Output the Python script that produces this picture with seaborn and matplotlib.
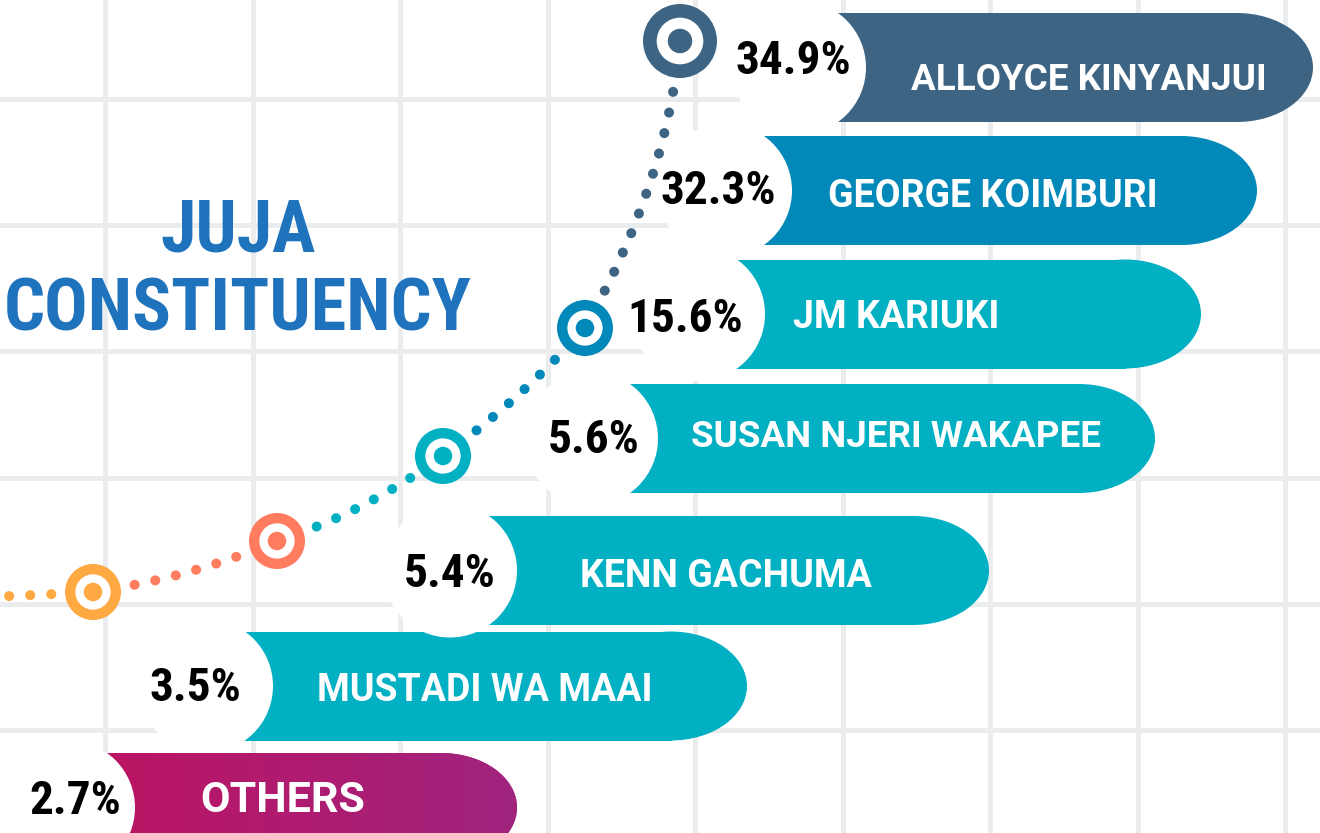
import os
import numpy as np
import matplotlib
matplotlib.use("Agg")
import matplotlib.pyplot as plt
from matplotlib.patches import Circle, Ellipse, PathPatch
from matplotlib.path import Path
from matplotlib.colors import LinearSegmentedColormap
from matplotlib import font_manager
import seaborn as sns

# ---- data ----
candidates = ["ALLOYCE KINYANJUI", "GEORGE KOIMBURI", "JM KARIUKI", "SUSAN NJERI WAKAPEE",
              "KENN GACHUMA", "MUSTADI WA MAAI", "OTHERS"]
shares = [34.9, 32.3, 15.6, 5.6, 5.4, 3.5, 2.7]
title_lines = ["JUJA", "CONSTITUENCY"]

# ---- layout (pixel units, y grows downward) ----
row_y = [67.5, 190.5, 314, 438.5, 570.5, 686, 807.5]
badge_x = [799, 725, 698, 591, 450, 206, 68]
bar_right = [1313, 1257, 1201, 1155, 989, 747, 517]
pct_x = [793, 718, 685, 594, 450, 195, 75]
pct_mid = [57, 187, 315, 436, 570, 684, 797]
name_x = [1089, 993, 896, 896, 726, 485, 283]
name_base = [90, 207, 328, 447, 587, 701, 812]
name_pt = [26.5, 27, 27, 26.5, 27, 27, 31]
bar_colors = ["#3e6483", "#0389b9", "#02b0c3", "#02b0c3", "#02b0c3", "#02b0c3", "#be1361"]
others_grad = ["#be1361", "#a0247f"]

# decorative dotted curve with target markers
mark_x = [93, 277, 443, 585, 680]
mark_y = [592, 541, 456, 328, 41]
mark_r = [28, 28, 28, 28, 37]
mark_colors = ["#ffa943", "#ff7c5f", "#02b0c3", "#0389b9", "#3e6483"]
curve_start = (-12, 597)
curve_ctrl = [(40, 595), (190, 578), (360, 515), (520, 400), (667, 183)]

bar_h = 109
cap_rx = 76
badge_r = 67

sns.set_style("whitegrid", {"grid.color": "#ebecee", "axes.edgecolor": "white"})


# look for a heavy narrow face; fall back to Roboto bold
def narrow_bold():
    order = ["liberationsansnarrow", "robotocondensed", "notosans", "opensans", ""]
    heavy = ["black", "extrabold", "bold"]
    hits = []
    for f in font_manager.fontManager.ttflist:
        base = os.path.basename(f.fname).lower().replace("-", "").replace("_", "")
        if not ("narrow" in base or "condensed" in base):
            continue
        if any(k in base for k in ("semibold", "italic", "mono", "serif", "extracondensed")):
            continue
        w = next((i for i, k in enumerate(heavy) if k in base), None)
        if w is None:
            continue
        rank = next(i for i, k in enumerate(order) if k in base)
        hits.append((rank, w, f.fname))
    if hits:
        return font_manager.FontProperties(fname=sorted(hits)[0][2]), True
    return font_manager.FontProperties(family="Roboto", weight="bold"), False


narrow_fp, got_narrow = narrow_bold()
pct_pt = 34 if got_narrow else 30
title_pt = 52 if got_narrow else 43

fig = plt.figure(figsize=(13.2, 8.33), dpi=100, facecolor="white")
ax = fig.add_axes([0, 0, 1, 1])
ax.set_facecolor("white")

# background grid
ax.set_xticks(np.arange(105, 1320, 147.5))
ax.set_yticks(np.arange(99, 833, 126.2))
ax.grid(True, color="#ebecee", linewidth=3.6)
ax.set_axisbelow(True)
ax.tick_params(length=0, labelbottom=False, labelleft=False)
for s in ax.spines.values():
    s.set_visible(False)

# dotted curve
pts = [curve_start] + list(zip(mark_x, mark_y))
for i in range(len(mark_x)):
    path = Path([pts[i], curve_ctrl[i], pts[i + 1]], [Path.MOVETO, Path.CURVE3, Path.CURVE3])
    ax.add_patch(PathPatch(path, fill=False, edgecolor=mark_colors[i], lw=7.2,
                           linestyle=(0, (0.01, 2.1)), capstyle="round", zorder=2))

# target markers
for x, y, r, c in zip(mark_x, mark_y, mark_r, mark_colors):
    ax.add_patch(Circle((x, y), r, fc=c, lw=0, zorder=5))
    ax.add_patch(Circle((x, y), r * 0.63, fc="white", lw=0, zorder=5))
    ax.add_patch(Circle((x, y), r * 0.33, fc=c, lw=0, zorder=5))

# bars
for i, name in enumerate(candidates):
    y = row_y[i]
    x0 = badge_x[i]
    xc = bar_right[i] - cap_rx
    rect = ax.barh(y, xc - x0 + 1, left=x0, height=bar_h, color=bar_colors[i], lw=0, zorder=3)[0]
    cap = Ellipse((xc, y), 2 * cap_rx, bar_h, fc=bar_colors[i], lw=0, zorder=3)
    ax.add_patch(cap)
    if name == "OTHERS":
        cmap = LinearSegmentedColormap.from_list("others", others_grad)
        grad = np.linspace(0, 1, 256).reshape(1, -1)
        for clip in (rect, cap):
            im = ax.imshow(grad, cmap=cmap, aspect="auto", zorder=3.5,
                           extent=(x0, bar_right[i], y + bar_h / 2, y - bar_h / 2))
            im.set_clip_path(clip)
    ax.add_patch(Circle((x0, y), badge_r, fc="white", lw=0, zorder=4))
    ax.text(pct_x[i], pct_mid[i] + pct_pt * 0.5, f"{shares[i]}%", ha="center", va="baseline",
            fontproperties=narrow_fp, fontsize=pct_pt, color="black", zorder=6)
    ax.text(name_x[i], name_base[i], name, ha="center", va="baseline",
            fontsize=name_pt[i], fontweight="bold", family="Roboto", color="white", zorder=6)

# title
title_mid = [226.5, 305.5]
for line, ym in zip(title_lines, title_mid):
    ax.text(238, ym + title_pt * 0.49, line, ha="center", va="baseline",
            fontproperties=narrow_fp, fontsize=title_pt, color="#1f73bd", zorder=6)

ax.set_xlim(0, 1320)
ax.set_ylim(833, 0)
fig.savefig("out.png", dpi=100, facecolor="white")
